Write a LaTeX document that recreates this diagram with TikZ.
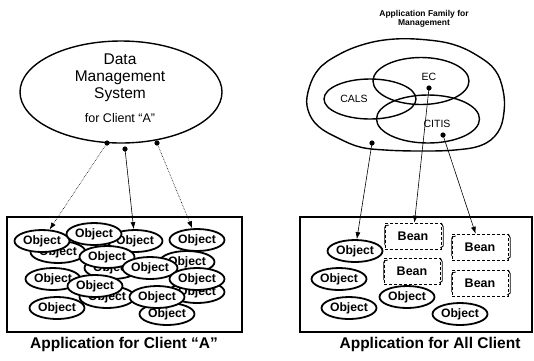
\documentclass[tikz,border=0pt]{standalone}
\usepackage{fontspec}
\setmainfont{Liberation Sans}
\usetikzlibrary{shapes.geometric,arrows.meta}
\begin{document}
\begin{tikzpicture}[x=1pt,y=-1pt,
  obj/.style={ellipse,draw,line width=1.8pt,fill=white,minimum width=55pt,minimum height=22pt,inner sep=0pt,font=\bfseries\fontsize{12.2}{12.2}\selectfont},
  bean/.style={rectangle,draw,densely dashed,line width=0.6pt,minimum width=56pt,minimum height=26pt,inner sep=0pt,font=\bfseries\fontsize{12.5}{12.5}\selectfont},
  frame/.style={rectangle,draw,line width=1.5pt,inner sep=0pt},
  venn/.style={ellipse,draw,line width=1.4pt,inner sep=0pt},
  conn/.style={line width=0.6pt,-{Latex[length=7pt,width=5pt]}},
  lbl/.style={font=\fontsize{10.5}{11}\selectfont,inner sep=0pt},
  ttl/.style={font=\bfseries\fontsize{15.5}{16}\selectfont,inner sep=0pt},
  dotmark/.style={fill=black}
]
\useasboundingbox (0,0) rectangle (534,360);

% ---------- left: Data Management System ----------
\node[ellipse,draw,line width=1.4pt,minimum width=202pt,minimum height=102pt] (dms) at (121,92) {};
\node[align=center,font=\fontsize{15.5}{17}\selectfont,inner sep=0pt] (dmstext) at (120,78) {Data\\Management\\System};
\node[font=\fontsize{12.5}{13}\selectfont,inner sep=0pt] (dmsfor) at (120,118) {for Client “A”};
\coordinate (d1) at (107,143);
\coordinate (d2) at (125,149);
\coordinate (d3) at (157,143);
\foreach \c in {d1,d2,d3} \fill[dotmark] (\c) circle (2.6pt);

% left box
\node[frame,minimum width=235pt,minimum height=115pt] (boxL) at (124.5,274.5) {};
% background objects
\node[obj] (B1) at (135,241) {Object};
\node[obj] (B2) at (58,252) {Object};
\node[obj] (B3) at (187,262) {Object};
\node[obj] (B4) at (112,268) {Object};
\node[obj] (B5) at (53,279) {Object};
\node[obj] (B6) at (107,297) {Object};
\node[obj] (B7) at (197,292) {Object};
% front objects
\node[obj] (F1) at (42,241) {Object};
\node[obj] (F2) at (94,234) {Object};
\node[obj] (F3) at (197,240) {Object};
\node[obj] (F4) at (107,257) {Object};
\node[obj] (F5) at (150,268) {Object};
\node[obj] (F6) at (197,279) {Object};
\node[obj] (F7) at (95,286) {Object};
\node[obj] (F10) at (167,314) {Object};
\node[obj] (F9) at (57,308) {Object};
\node[obj] (F8) at (157,297) {Object};

\draw[conn,densely dotted] (d1) -- (F1);
\draw[conn] (d2) -- (B1);
\draw[conn,densely dotted] (d3) -- (F3);

\node[ttl] (titleL) at (124,344) {Application for Client “A”};

% ---------- right: Application family ----------
\node[align=center,font=\bfseries\fontsize{8.5}{9.5}\selectfont,inner sep=0pt] (titleT) at (424,19) {Application Family for\\Management};
\draw[line width=1.4pt] plot[smooth cycle,tension=0.65] coordinates {
  (308,92) (318,70) (338,55) (365,44) (395,39) (428,40) (455,45) (478,56)
  (495,70) (503,90) (504,112) (498,132) (482,145) (455,150) (420,151)
  (385,150) (360,147) (338,138) (318,126) (308,110)};
\node[venn,minimum width=92pt,minimum height=40pt] (cals) at (370,99) {};
\node[venn,minimum width=96pt,minimum height=47pt] (ec) at (421,81) {};
\node[venn,minimum width=103pt,minimum height=48pt] (citis) at (428,119) {};
\node[lbl] (calsl) at (354,99) {CALS};
\node[lbl] (ecl) at (429,77) {EC};
\node[lbl] (citisl) at (437,124) {CITIS};
\coordinate (dEC) at (429,88);
\coordinate (dCI) at (443,135);
\coordinate (dBl) at (372,143);
\foreach \c in {dEC,dCI,dBl} \fill[dotmark] (\c) circle (2.6pt);

% right box
\node[frame,minimum width=232pt,minimum height=115pt] (boxR) at (416,274.5) {};
\node[obj] (R1) at (355,251) {Object};
\node[obj] (R2) at (339,279) {Object};
\node[obj] (R3) at (349,308) {Object};
\node[obj] (R4) at (407,297) {Object};
\node[obj] (R5) at (460,314) {Object};
\node[bean] (N1) at (413,236) {Bean};
\node[bean] (N2) at (412,271) {Bean};
\node[bean] (N3) at (480,247) {Bean};
\node[bean] (N4) at (480,283) {Bean};
\foreach \b in {N1,N2,N3,N4} {
  \draw[line width=0.8pt] ([yshift=-9pt]\b.west) -- ([yshift=6pt]\b.west)
     .. controls ([yshift=10pt]\b.west) .. ([xshift=4pt,yshift=11pt]\b.west);
  \draw[line width=0.8pt] ([xshift=-1pt,yshift=-12pt]\b.east) -- ([xshift=2pt,yshift=-10pt]\b.east)
     -- ([xshift=2pt,yshift=9pt]\b.east) -- ([xshift=0pt,yshift=13pt]\b.east);
}

\draw[conn] (dBl) -- (R1);
\draw[conn] (dEC) -- (N1);
\draw[conn] (dCI) -- (N3);

\node[ttl] (titleR) at (430,344) {Application for All Client};
\end{tikzpicture}
\end{document}
